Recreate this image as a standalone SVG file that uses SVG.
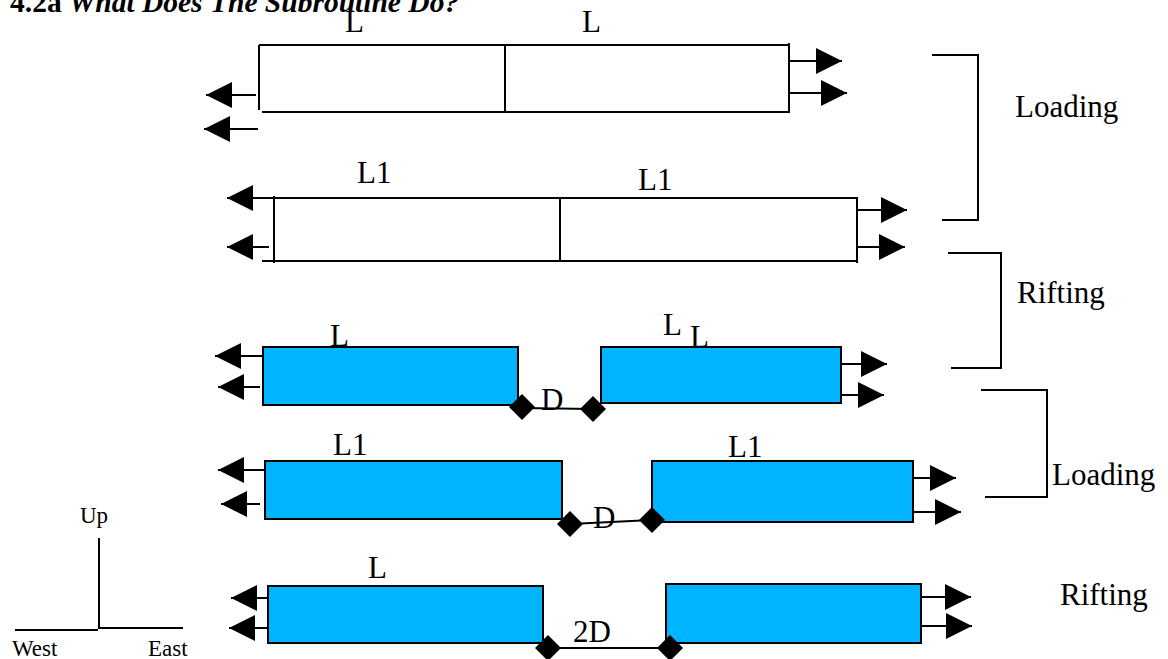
<svg xmlns="http://www.w3.org/2000/svg" width="1168" height="659" viewBox="0 0 1168 659">
<defs>
<marker id="ah" markerUnits="userSpaceOnUse" markerWidth="28" markerHeight="28" refX="26" refY="13" orient="auto" viewBox="0 0 28 28">
<path d="M0,0 L26,13 L0,26 z" fill="#000"/>
</marker>
<style>
.ln{stroke:#000;stroke-width:2;fill:none}
.bx{stroke:#000;stroke-width:2;fill:#00B4FF}
.ar{stroke:#000;stroke-width:2;fill:none;marker-end:url(#ah)}
.t{font-family:"Liberation Serif","Times New Roman",serif;font-size:31px;fill:#000}
.s{font-family:"Liberation Serif","Times New Roman",serif;font-size:23px;fill:#000}
.dm{fill:#000}
</style>
</defs>
<rect width="1168" height="659" fill="#fff"/>
<g id="title"><text x="10" y="12" font-family="'Liberation Serif','Times New Roman',serif" font-size="29.5" font-weight="bold"><tspan>4.2a </tspan><tspan font-style="italic">What Does The Subroutine Do?</tspan></text></g>

<g id="row1">
<line class="ln" x1="259" y1="45" x2="259" y2="110"/>
<line class="ln" x1="259" y1="45" x2="789" y2="45"/>
<line class="ln" x1="262" y1="112" x2="789" y2="112"/>
<line class="ln" x1="789" y1="43" x2="789" y2="113"/>
<line class="ln" x1="505" y1="45" x2="505" y2="112"/>
<text class="t" x="345" y="32">L</text>
<text class="t" x="582" y="32">L</text>
</g>

<g id="row2">
<line class="ln" x1="274" y1="196" x2="274" y2="263"/>
<line class="ln" x1="253" y1="198" x2="857" y2="198"/>
<line class="ln" x1="262" y1="261" x2="857" y2="261"/>
<line class="ln" x1="857" y1="197" x2="857" y2="263"/>
<line class="ln" x1="560" y1="198" x2="560" y2="261"/>
<text class="t" x="357" y="183">L1</text>
<text class="t" x="638" y="190">L1</text>
</g>

<g id="row3">
<rect class="bx" x="263" y="347" width="255" height="58"/>
<rect class="bx" x="601" y="347" width="240" height="56"/>
<text class="t" x="330" y="346">L</text>
<text class="t" x="663" y="335">L</text>
<text class="t" x="690" y="347">L</text>
<text class="t" x="541" y="410">D</text>
</g>

<g id="row4">
<rect class="bx" x="265" y="461" width="297" height="58"/>
<rect class="bx" x="652" y="461" width="261" height="61"/>
<text class="t" x="333" y="455">L1</text>
<text class="t" x="728" y="457">L1</text>
<text class="t" x="593" y="528">D</text>
</g>

<g id="row5">
<rect class="bx" x="268" y="586" width="275" height="57"/>
<rect class="bx" x="666" y="584" width="255" height="59"/>
<text class="t" x="368" y="578">L</text>
<text class="t" x="573" y="642">2D</text>
</g>

<g id="brackets">
<polyline class="ln" points="932,55 978,55 978,220 942,220"/>
<text class="t" x="1015" y="117">Loading</text>
<polyline class="ln" points="948,253 1001,253 1001,368 951,368"/>
<text class="t" x="1017" y="303">Rifting</text>
<polyline class="ln" points="981,390 1047,390 1047,497 985,497"/>
<text class="t" x="1052" y="485">Loading</text>
<text class="t" x="1060" y="605">Rifting</text>
</g>

<g id="axes">
<line class="ln" x1="99" y1="538" x2="99" y2="629"/>
<line class="ln" x1="15" y1="630" x2="98" y2="630"/>
<line class="ln" x1="99" y1="628" x2="183" y2="628"/>
<text class="s" x="80" y="523">Up</text>
<text class="s" x="12" y="656">West</text>
<text class="s" x="148" y="656">East</text>
</g>

<g id="connectors">
<line class="ar" x1="256" y1="95" x2="206" y2="95"/>
<line class="ar" x1="258" y1="129" x2="204" y2="129"/>
<line class="ar" x1="789" y1="61" x2="842" y2="61"/>
<line class="ar" x1="789" y1="93" x2="847" y2="93"/>

<line class="ar" x1="262" y1="198" x2="227" y2="198"/>
<line class="ar" x1="269" y1="247" x2="227" y2="247"/>
<line class="ar" x1="857" y1="210" x2="907" y2="210"/>
<line class="ar" x1="857" y1="247" x2="905" y2="247"/>

<line class="ar" x1="263" y1="356" x2="215" y2="356"/>
<line class="ar" x1="260" y1="387" x2="218" y2="387"/>
<line class="ar" x1="841" y1="364" x2="887" y2="364"/>
<line class="ar" x1="841" y1="395" x2="884" y2="395"/>
<line class="ln" x1="522" y1="408" x2="593" y2="409"/>
<path class="dm" d="M522,394 L535,407 L522,420 L509,407 z"/>
<path class="dm" d="M593,396 L606,409 L593,422 L580,409 z"/>

<line class="ar" x1="265" y1="470" x2="218" y2="470"/>
<line class="ar" x1="260" y1="504" x2="221" y2="504"/>
<line class="ar" x1="913" y1="478" x2="956" y2="478"/>
<line class="ar" x1="913" y1="512" x2="961" y2="512"/>
<line class="ln" x1="570" y1="524" x2="652" y2="520"/>
<path class="dm" d="M570,511 L583,524 L570,537 L557,524 z"/>
<path class="dm" d="M652,507 L665,520 L652,533 L639,520 z"/>

<line class="ar" x1="268" y1="598" x2="231" y2="598"/>
<line class="ar" x1="268" y1="628" x2="229" y2="628"/>
<line class="ar" x1="921" y1="597" x2="971" y2="597"/>
<line class="ar" x1="921" y1="626" x2="972" y2="626"/>
<line class="ln" x1="548" y1="648" x2="670" y2="648"/>
<path class="dm" d="M548,635 L561,648 L548,661 L535,648 z"/>
<path class="dm" d="M670,635 L683,648 L670,661 L657,648 z"/>
</g>
</svg>
